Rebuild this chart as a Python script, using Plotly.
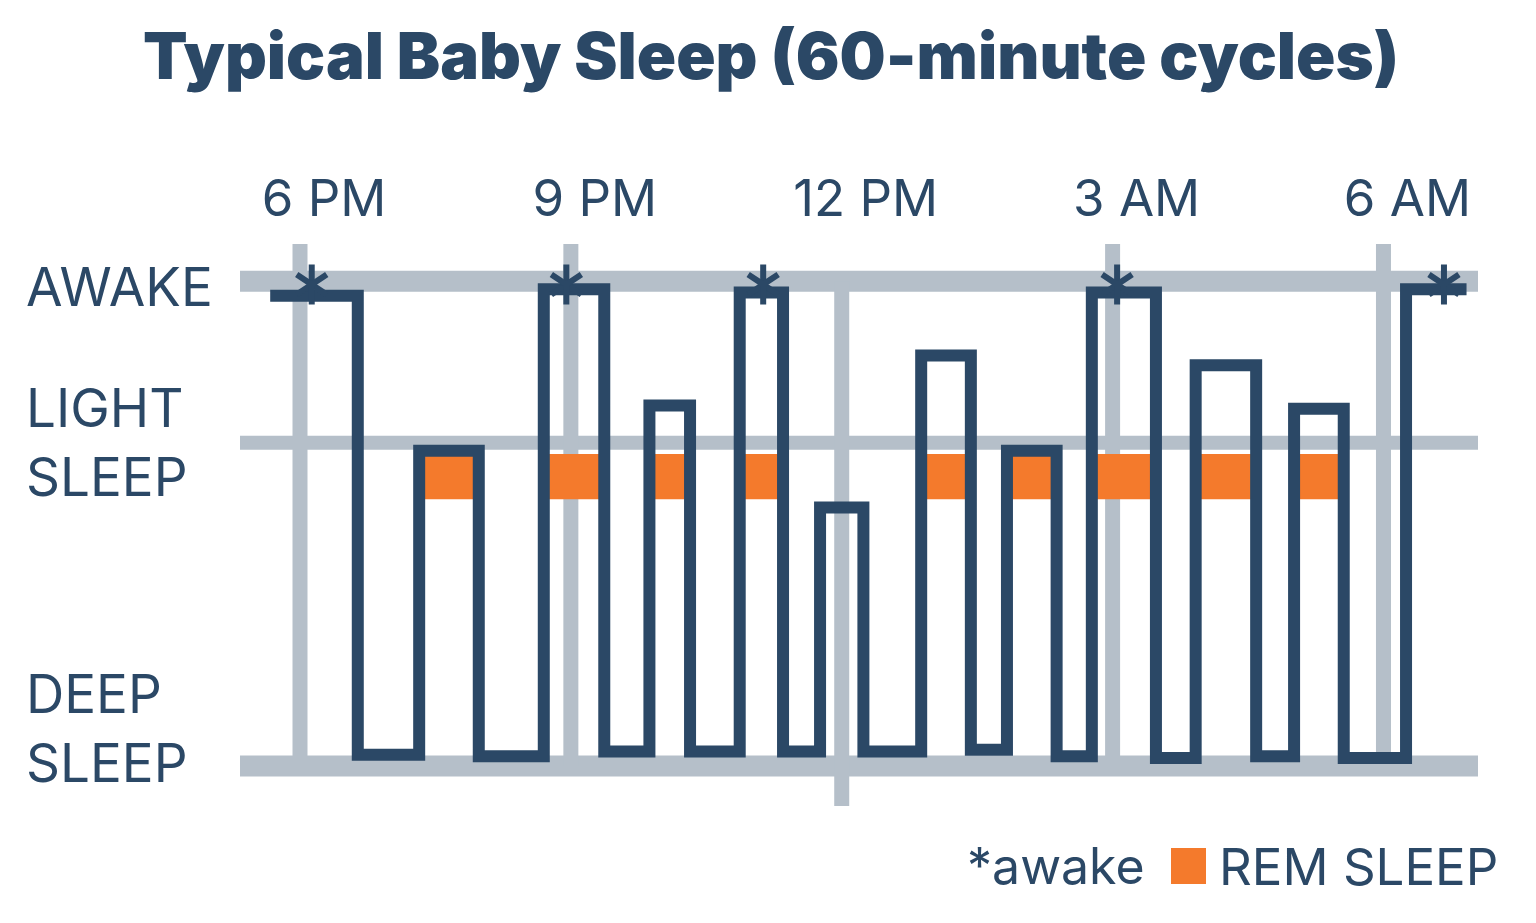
import plotly.graph_objects as go

# hours after 6 PM where the sleep line changes level
step_hours = [-0.33, 0.64, 1.32, 1.98, 2.70, 3.37, 3.87, 4.32, 4.87, 5.35,
              5.76, 6.24, 6.88, 7.43, 7.83, 8.38, 8.77, 9.48, 9.92, 10.59,
              11.01, 11.56, 12.25, 12.92]
# sleep level from each change on (0 = deep sleep, 2 = light sleep, 3 = awake)
step_level = [2.91, 0.07, 1.95, 0.06, 2.95, 0.09, 2.23, 0.09, 2.93, 0.09,
              1.60, 0.09, 2.54, 0.10, 1.95, 0.06, 2.93, 0.05, 2.48, 0.06,
              2.21, 0.05, 2.95, 2.95]

# REM periods (hours after 6 PM) and the level band they cover
rem_start = [1.32, 2.70, 3.87, 4.87, 6.88, 7.83, 8.77, 9.92, 11.01]
rem_end = [1.98, 3.37, 4.32, 5.35, 7.43, 8.38, 9.48, 10.59, 11.56]
rem_low = 1.65
rem_high = 1.93

# wake-ups marked with an asterisk
awake_hours = [0.13, 2.95, 5.13, 9.05, 12.67]
awake_level = 2.98

tick_hours = [0, 3, 6, 9, 12]
tick_text = ["6 PM", "9 PM", "12 PM", "3 AM", "6 AM"]
level_values = [3, 2, 0]
level_text = ["AWAKE", "LIGHT<br>SLEEP", "DEEP<br>SLEEP"]

NAVY = "#2b4866"
GRAY = "#b5bfc9"
ORANGE = "#f47a2c"
FONT = "Inter"

# page has an 8px body margin; plot area sits at 240..1478 x 244..806 on screen
X_RANGE = [-0.6645, 13.047]
Y_RANGE = [-0.2475, 3.23]


def px_x(px):
    return (px - 240) / 1238


def px_y(py):
    return (806 - py) / 562


fig = go.Figure()

# REM blocks
fig.add_trace(go.Bar(
    x=[(s + e) / 2 for s, e in zip(rem_start, rem_end)],
    width=[e - s for s, e in zip(rem_start, rem_end)],
    y=[rem_high - rem_low] * len(rem_start),
    base=rem_low,
    marker=dict(color=ORANGE, line=dict(width=0)),
    hoverinfo="skip",
))

# sleep cycle line
fig.add_trace(go.Scatter(
    x=step_hours, y=step_level, mode="lines", line_shape="hv",
    line=dict(color=NAVY, width=12), hoverinfo="skip",
))

# asterisks (two Y symbols make a six-armed star)
for sym in ["y-up-open", "y-down-open"]:
    fig.add_trace(go.Scatter(
        x=awake_hours, y=[awake_level] * len(awake_hours), mode="markers",
        marker=dict(symbol=sym, size=25, color=NAVY, line=dict(color=NAVY, width=6)),
        hoverinfo="skip",
    ))

# grid
for h in tick_hours:
    if h == 6:
        y0, y1 = Y_RANGE[0], 3
    else:
        y0, y1 = 0, Y_RANGE[1]
    fig.add_shape(type="line", xref="x", yref="y", x0=h, x1=h, y0=y0, y1=y1,
                  line=dict(color=GRAY, width=15), layer="below")
for lv in level_values:
    fig.add_shape(type="line", xref="paper", yref="y", x0=0, x1=1, y0=lv, y1=lv,
                  line=dict(color=GRAY, width=14 if lv == 2 else 21), layer="below")

# level labels on the left
shifts = {3: -6, 2: 0, 0: 38}
for lv, txt in zip(level_values, level_text):
    fig.add_annotation(x=px_x(24), xref="paper", xanchor="left", y=lv, yref="y",
                       yanchor="middle", yshift=shifts[lv], text=txt, align="left",
                       showarrow=False, font=dict(family=FONT, size=53, color=NAVY))

# title
fig.add_annotation(x=px_x(771), xref="paper", xanchor="center", y=px_y(56), yref="paper",
                   yanchor="middle", text="Typical Baby Sleep (60-minute cycles)",
                   showarrow=False,
                   font=dict(family="Inter", size=65, weight=900, color=NAVY))

# legend
fig.add_annotation(x=px_x(965), xref="paper", xanchor="left", y=px_y(866), yref="paper",
                   yanchor="middle", text="*awake", showarrow=False,
                   font=dict(family=FONT, size=50, color=NAVY))
fig.add_annotation(x=px_x(1217), xref="paper", xanchor="left", y=px_y(866), yref="paper",
                   yanchor="middle", text="REM SLEEP", showarrow=False,
                   font=dict(family=FONT, size=51, color=NAVY))
fig.add_shape(type="rect", xref="paper", yref="paper",
              x0=px_x(1171), x1=px_x(1206), y0=px_y(884), y1=px_y(848),
              fillcolor=ORANGE, line=dict(width=0))

fig.update_layout(
    width=1520, height=907,
    margin=dict(l=232, r=50, t=236, b=109),
    paper_bgcolor="white", plot_bgcolor="white",
    showlegend=False,
    xaxis=dict(range=X_RANGE, side="top", tickvals=tick_hours, ticktext=tick_text,
               tickfont=dict(family=FONT, size=51, color=NAVY), ticks="",
               ticklabelshift=24, ticklabelstandoff=17,
               showgrid=False, zeroline=False, showline=False, fixedrange=True),
    yaxis=dict(range=Y_RANGE, visible=False, showgrid=False, zeroline=False,
               fixedrange=True),
)

fig.write_html("out.html")
